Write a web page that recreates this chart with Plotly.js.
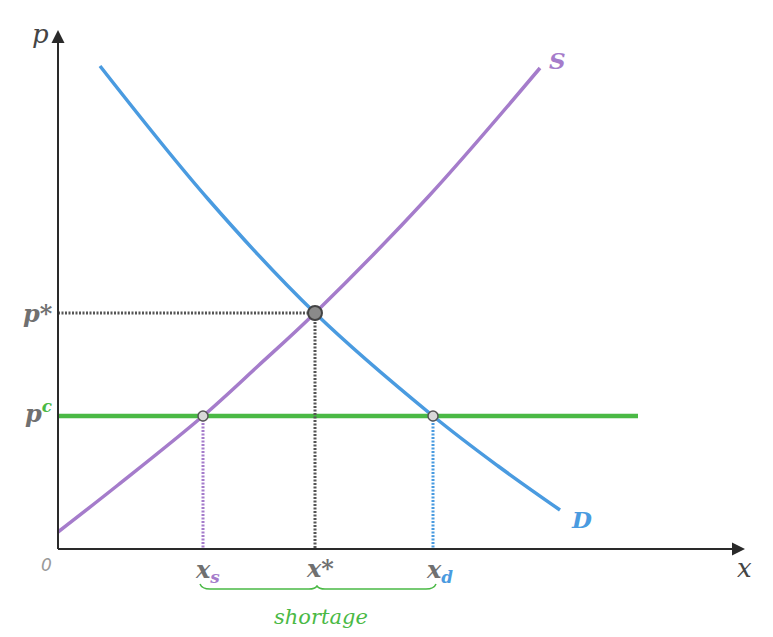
<!DOCTYPE html>
<html><head><meta charset="utf-8">
<script src="https://cdn.plot.ly/plotly-3.0.1.min.js"></script>
<style>html,body{margin:0;padding:0;background:#fff}</style>
</head><body><div id="chart" style="width:773px;height:637px"></div>
<script>
// Data (x: quantity, y: price; arbitrary units)
const supplyX = [0, 60, 145, 200, 257, 370, 482];
const supplyY = [17, 64, 133, 183, 236, 352, 481];
const demandX = [42, 150, 257, 375, 440, 502];
const demandY = [483, 350, 236, 133, 83, 39];
const pStar = 236, xStar = 257;
const pCeil = 133, xS = 145, xD = 375;
const ceilEnd = 580;
const xAxisEnd = 687, yAxisEnd = 519;

const purple = '#a57ccb', blue = '#4a9be0', green = '#4ab945', gray = '#707070', axisCol = '#2a2a2a';
const serif = 'DejaVu Serif';

const traces = [
  {x: supplyX, y: supplyY, mode: 'lines', line: {color: purple, width: 3.5, shape: 'spline'}, hoverinfo: 'skip'},
  {x: demandX, y: demandY, mode: 'lines', line: {color: blue, width: 3.5, shape: 'spline'}, hoverinfo: 'skip'},
  {x: [0, ceilEnd], y: [pCeil, pCeil], mode: 'lines', line: {color: green, width: 4.5}, hoverinfo: 'skip'},
  {x: [0, xStar, xStar], y: [pStar, pStar, 0], mode: 'lines', line: {color: '#555', width: 3, dash: '2px,1.5px'}, hoverinfo: 'skip'},
  {x: [xS, xS], y: [pCeil, 0], mode: 'lines', line: {color: purple, width: 3, dash: '2px,1.5px'}, hoverinfo: 'skip'},
  {x: [xD, xD], y: [pCeil, 0], mode: 'lines', line: {color: blue, width: 3, dash: '2px,1.5px'}, hoverinfo: 'skip'},
  {x: [xS, xD], y: [pCeil, pCeil], mode: 'markers', marker: {size: 10, color: '#d8d8d8', line: {color: '#555', width: 1.5}}, hoverinfo: 'skip'},
  {x: [xStar], y: [pStar], mode: 'markers', marker: {size: 14, color: '#8a8a8a', line: {color: '#444', width: 2}}, hoverinfo: 'skip'}
];

const by = -40;
const brace = `M ${xS-3},${by+5} Q ${xS-1},${by} ${xS+7},${by} L ${xStar-6},${by} Q ${xStar},${by} ${xStar+2},${by+3} Q ${xStar+4},${by} ${xStar+10},${by} L ${xD-7},${by} Q ${xD+1},${by} ${xD+3},${by+5}`;

function ann(x, y, text, font, extra) {
  return Object.assign({x: x, y: y, xref: 'x', yref: 'y', text: text, showarrow: false, font: font}, extra || {});
}
const lblFont = {family: serif, size: 24, color: gray, weight: 'bold'};
const annotations = [
  {x: xAxisEnd, y: 0, ax: 0, ay: 0, xref: 'x', yref: 'y', axref: 'x', ayref: 'y', showarrow: true, arrowhead: 2, arrowsize: 1.3, arrowwidth: 2, arrowcolor: axisCol, text: ''},
  {x: 0, y: yAxisEnd, ax: 0, ay: 0, xref: 'x', yref: 'y', axref: 'x', ayref: 'y', showarrow: true, arrowhead: 2, arrowsize: 1.3, arrowwidth: 2, arrowcolor: axisCol, text: ''},
  ann(-18, 515, '<i>p</i>', {family: serif, size: 26, color: '#444'}),
  ann(686, -19, '<i>x</i>', {family: serif, size: 26, color: '#444'}),
  ann(-12, -16, '<i>0</i>', {family: 'DejaVu Sans', size: 17, color: '#999'}),
  ann(-20, pStar, '<b><i>p*</i></b>', lblFont),
  ann(-20, pCeil + 4, `<b><i>p<sup><span style="color:${green}">c</span></sup></i></b>`, lblFont),
  ann(xS + 4, -22, `<b><i>x<sub><span style="color:${purple}">s</span></sub></i></b>`, lblFont),
  ann(xStar + 5, -19, '<b><i>x*</i></b>', lblFont),
  ann(xD + 6, -22, `<b><i>x<sub><span style="color:${blue}">d</span></sub></i></b>`, lblFont),
  ann(supplyX[supplyX.length-1] + 17, supplyY[supplyY.length-1] + 8, '<b><i>S</i></b>', {family: serif, size: 23, color: purple}),
  ann(demandX[demandX.length-1] + 21, demandY[demandY.length-1] - 9, '<b><i>D</i></b>', {family: serif, size: 23, color: blue}),
  ann((xS + xD) / 2 + 3, -68, '<i>shortage</i>', {family: serif, size: 21, color: green})
];

const shapes = [
  {type: 'line', xref: 'x', yref: 'y', x0: 0, y0: 0, x1: xAxisEnd - 4, y1: 0, line: {color: axisCol, width: 2}},
  {type: 'line', xref: 'x', yref: 'y', x0: 0, y0: 0, x1: 0, y1: yAxisEnd - 4, line: {color: axisCol, width: 2}},
  {type: 'path', xref: 'x', yref: 'y', path: brace, line: {color: green, width: 1.5}}
];

const layout = {
  width: 773, height: 637,
  margin: {l: 0, r: 0, t: 0, b: 0},
  paper_bgcolor: '#fff', plot_bgcolor: '#fff',
  showlegend: false,
  xaxis: {range: [-58, 715], visible: false, fixedrange: true},
  yaxis: {range: [-88, 549], visible: false, fixedrange: true},
  annotations: annotations,
  shapes: shapes
};
Plotly.newPlot('chart', traces, layout, {displayModeBar: false, staticPlot: true});
</script></body></html>
